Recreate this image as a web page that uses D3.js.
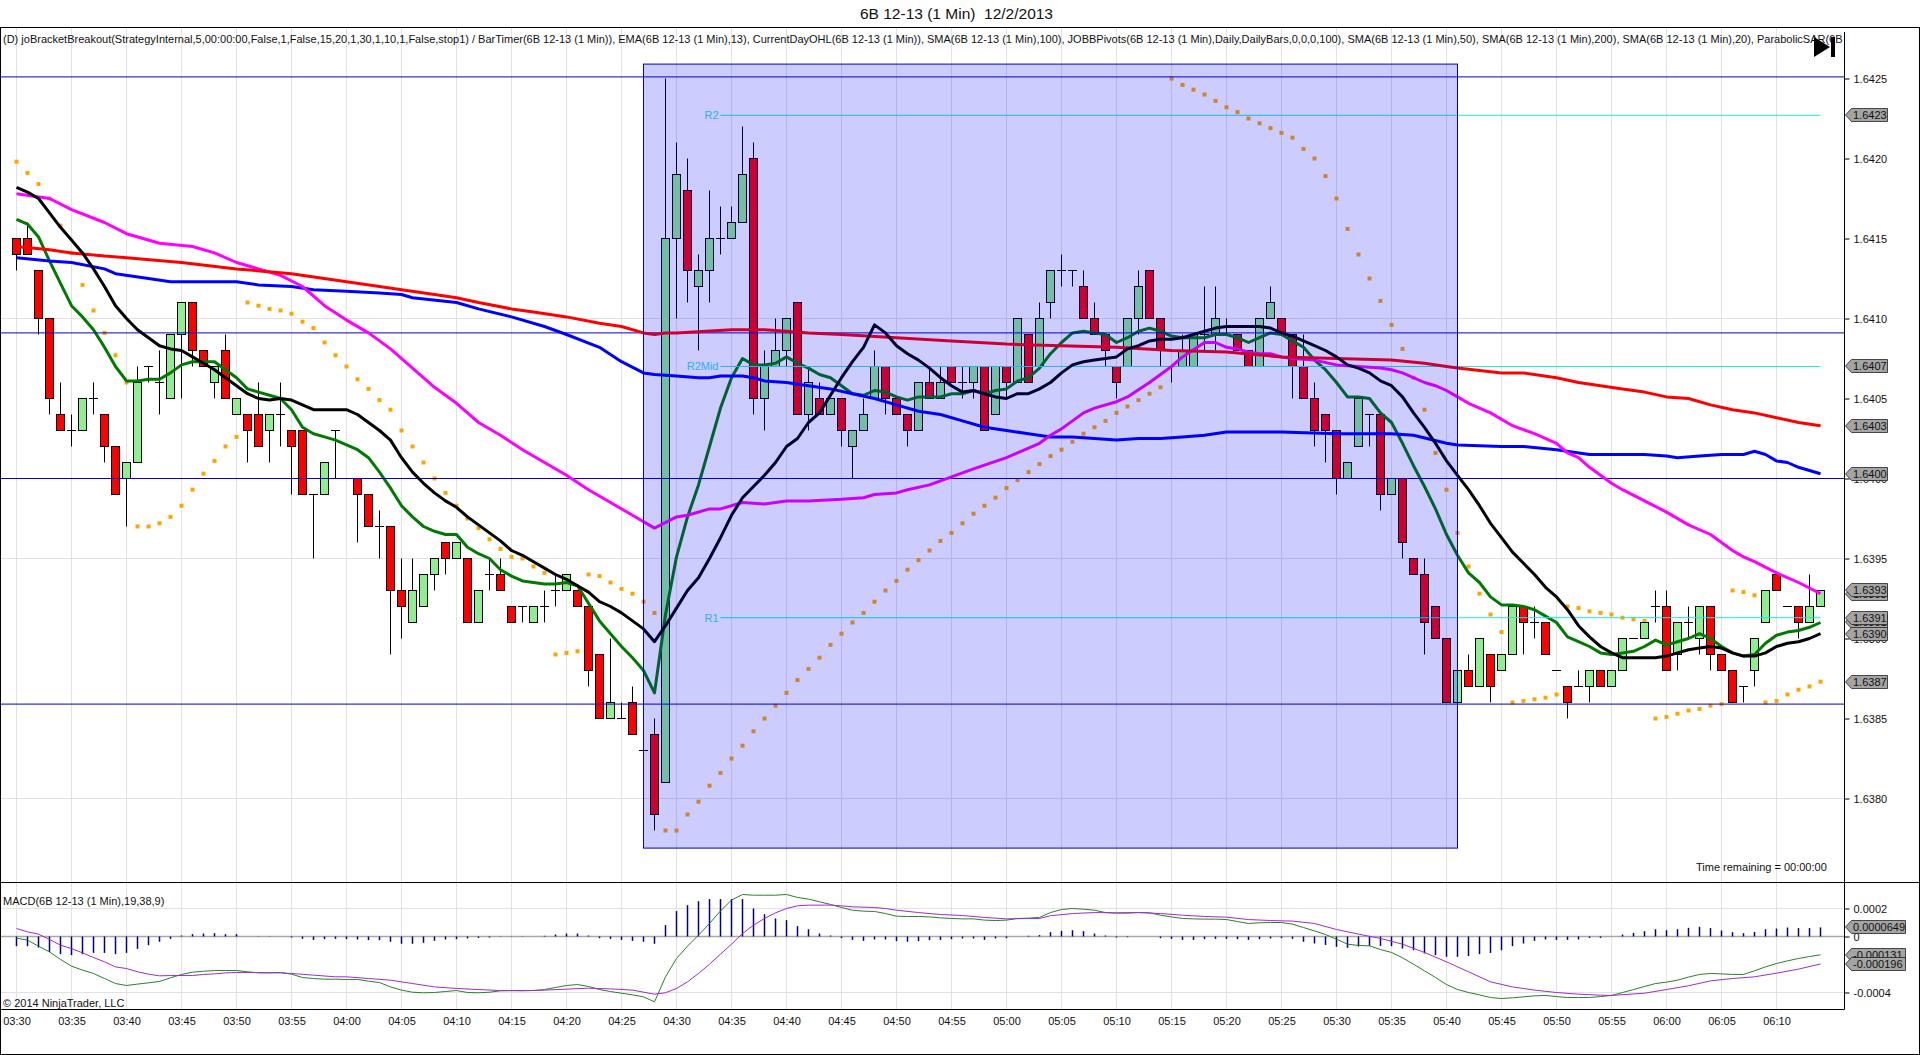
<!DOCTYPE html>
<html>
<head>
<meta charset="utf-8">
<title>6B 12-13 (1 Min) 12/2/2013</title>
<script src="https://cdn.jsdelivr.net/npm/d3@7"></script>
<style>
html, body { margin: 0; padding: 0; background: #fff; overflow: hidden; }
text { font-family: "Liberation Sans", Arial, sans-serif; font-size: 11px; fill: #111; white-space: pre; }
</style>
</head>
<body>
<div id="chart"></div>
<script>
// Time labels, one every 5 minutes from 03:30
const timeLabels = ["03:30","03:35","03:40","03:45","03:50","03:55","04:00","04:05","04:10","04:15","04:20","04:25","04:30","04:35","04:40","04:45","04:50","04:55","05:00","05:05","05:10","05:15","05:20","05:25","05:30","05:35","05:40","05:45","05:50","05:55","06:00","06:05","06:10"]
const priceTicks = [1.6380,1.6385,1.6390,1.6395,1.6400,1.6405,1.6410,1.6415,1.6420,1.6425]
const priceGrid = [1.6380,1.6395,1.6410]

// Candles, one per minute
const opens = [
1.6415,1.6415,1.6413,1.6410,1.6404,1.6403,1.6403,1.6405,1.6404,1.6402,
1.6400,1.6401,1.6407,1.6406,1.6405,1.6409,1.6411,1.6408,1.6406,1.6408,
1.6404,1.6404,1.6404,1.6403,1.6404,1.6403,1.6403,1.6399,1.6399,1.6403,
1.6400,1.6400,1.6399,1.6397,1.6397,1.6393,1.6391,1.6392,1.6394,1.6396,
1.6395,1.6395,1.6391,1.6394,1.6394,1.6392,1.6392,1.6391,1.6392,1.6393,
1.6393,1.6393,1.6392,1.6389,1.6385,1.6385,1.6386,1.6383,1.6384,1.6381,
1.6415,1.6418,1.6412,1.6413,1.6415,1.6415,1.6416,1.6420,1.6405,1.6407,
1.6408,1.6411,1.6404,1.6405,1.6404,1.6405,1.6402,1.6403,1.6405,1.6407,
1.6405,1.6404,1.6403,1.6406,1.6405,1.6407,1.6406,1.6406,1.6407,1.6404,
1.6407,1.6406,1.6409,1.6407,1.6411,1.6413,1.6413,1.6412,1.6410,1.6409,
1.6407,1.6407,1.6410,1.6413,1.6410,1.6407,1.6407,1.6407,1.6409,1.6409,
1.6409,1.6409,1.6408,1.6407,1.6410,1.6410,1.6409,1.6407,1.6405,1.6404,
1.6403,1.6400,1.6402,1.6404,1.6404,1.6399,1.6400,1.6395,1.6394,1.6392,
1.6390,1.6386,1.6388,1.6387,1.6389,1.6388,1.6389,1.6392,1.6391,1.6391,
1.6388,1.6387,1.6387,1.6387,1.6388,1.6387,1.6388,1.6390,1.6390,1.6392,
1.6392,1.6389,1.6391,1.6390,1.6392,1.6389,1.6388,1.6387,1.6388,1.6391,
1.6394,1.6392,1.6392,1.6391,1.6392]
const highs = [
1.6415,1.6416,1.6413,1.6410,1.6406,1.6404,1.6405,1.6406,1.6404,1.6402,
1.6401,1.6407,1.6407,1.6408,1.6409,1.6411,1.6411,1.6408,1.6407,1.6409,
1.6405,1.6404,1.6406,1.6404,1.6406,1.6403,1.6403,1.6399,1.6401,1.6403,
1.6400,1.6400,1.6399,1.6398,1.6397,1.6395,1.6395,1.6394,1.6395,1.6396,
1.6396,1.6395,1.6393,1.6395,1.6395,1.6392,1.6392,1.6392,1.6393,1.6394,
1.6394,1.6393,1.6392,1.6389,1.6390,1.6386,1.6387,1.6383,1.6385,1.6425,
1.6421,1.6420,1.6414,1.6418,1.6417,1.6417,1.6422,1.6421,1.6408,1.6410,
1.6410,1.6411,1.6407,1.6406,1.6405,1.6405,1.6403,1.6405,1.6408,1.6407,
1.6405,1.6404,1.6406,1.6407,1.6407,1.6407,1.6407,1.6407,1.6407,1.6407,
1.6407,1.6410,1.6409,1.6411,1.6413,1.6414,1.6413,1.6413,1.6411,1.6409,
1.6407,1.6410,1.6413,1.6413,1.6410,1.6407,1.6409,1.6409,1.6412,1.6412,
1.6410,1.6409,1.6408,1.6410,1.6412,1.6410,1.6409,1.6409,1.6406,1.6404,
1.6403,1.6401,1.6405,1.6404,1.6404,1.6400,1.6400,1.6395,1.6395,1.6392,
1.6390,1.6388,1.6389,1.6390,1.6389,1.6389,1.6392,1.6392,1.6392,1.6391,
1.6388,1.6387,1.6388,1.6388,1.6388,1.6388,1.6390,1.6390,1.6391,1.6393,
1.6393,1.6391,1.6392,1.6392,1.6392,1.6389,1.6388,1.6387,1.6390,1.6393,
1.6394,1.6392,1.6392,1.6394,1.6393]
const lows = [
1.6413,1.6414,1.6409,1.6404,1.6403,1.6402,1.6403,1.6404,1.6401,1.6399,
1.6397,1.6401,1.6406,1.6404,1.6405,1.6405,1.6407,1.6407,1.6405,1.6405,
1.6404,1.6401,1.6402,1.6401,1.6402,1.6399,1.6399,1.6395,1.6399,1.6400,
1.6400,1.6396,1.6397,1.6395,1.6389,1.6390,1.6391,1.6392,1.6393,1.6394,
1.6395,1.6391,1.6391,1.6393,1.6393,1.6391,1.6391,1.6391,1.6391,1.6392,
1.6393,1.6392,1.6387,1.6385,1.6385,1.6385,1.6384,1.6383,1.6378,1.6381,
1.6410,1.6411,1.6408,1.6411,1.6414,1.6415,1.6416,1.6404,1.6403,1.6407,
1.6407,1.6404,1.6403,1.6404,1.6404,1.6402,1.6400,1.6403,1.6405,1.6404,
1.6404,1.6402,1.6403,1.6405,1.6405,1.6406,1.6405,1.6405,1.6403,1.6404,
1.6405,1.6406,1.6406,1.6407,1.6410,1.6412,1.6412,1.6410,1.6409,1.6407,
1.6405,1.6407,1.6409,1.6410,1.6407,1.6406,1.6407,1.6407,1.6408,1.6408,
1.6409,1.6408,1.6407,1.6407,1.6410,1.6409,1.6405,1.6405,1.6402,1.6401,
1.6399,1.6400,1.6402,1.6402,1.6398,1.6399,1.6395,1.6394,1.6389,1.6390,
1.6386,1.6386,1.6387,1.6387,1.6386,1.6388,1.6389,1.6389,1.6390,1.6389,
1.6388,1.6385,1.6387,1.6386,1.6387,1.6387,1.6388,1.6390,1.6390,1.6391,
1.6388,1.6388,1.6390,1.6389,1.6388,1.6388,1.6386,1.6386,1.6387,1.6391,
1.6393,1.6392,1.6390,1.6391,1.6392]
const closes = [
1.6414,1.6414,1.6410,1.6405,1.6403,1.6403,1.6405,1.6405,1.6402,1.6399,
1.6401,1.6406,1.6407,1.6406,1.6409,1.6411,1.6408,1.6407,1.6407,1.6405,
1.6405,1.6403,1.6402,1.6404,1.6404,1.6402,1.6399,1.6399,1.6401,1.6403,
1.6400,1.6399,1.6397,1.6397,1.6393,1.6392,1.6393,1.6394,1.6395,1.6395,
1.6396,1.6391,1.6393,1.6394,1.6393,1.6391,1.6392,1.6392,1.6392,1.6393,
1.6394,1.6392,1.6388,1.6385,1.6386,1.6385,1.6384,1.6383,1.6379,1.6415,
1.6419,1.6413,1.6413,1.6415,1.6415,1.6416,1.6419,1.6405,1.6407,1.6408,
1.6410,1.6404,1.6406,1.6404,1.6405,1.6403,1.6403,1.6404,1.6407,1.6405,
1.6404,1.6403,1.6406,1.6405,1.6406,1.6406,1.6406,1.6407,1.6403,1.6407,
1.6406,1.6410,1.6406,1.6410,1.6413,1.6413,1.6413,1.6410,1.6409,1.6408,
1.6406,1.6410,1.6412,1.6410,1.6408,1.6407,1.6408,1.6409,1.6409,1.6410,
1.6409,1.6408,1.6407,1.6410,1.6411,1.6409,1.6407,1.6405,1.6403,1.6403,
1.6400,1.6401,1.6405,1.6404,1.6399,1.6400,1.6396,1.6394,1.6391,1.6390,
1.6386,1.6388,1.6387,1.6390,1.6387,1.6389,1.6392,1.6391,1.6391,1.6389,
1.6388,1.6386,1.6387,1.6388,1.6387,1.6388,1.6390,1.6390,1.6391,1.6392,
1.6388,1.6391,1.6391,1.6392,1.6389,1.6388,1.6386,1.6387,1.6390,1.6393,
1.6393,1.6392,1.6391,1.6392,1.6393]

// EMA(13) and SMA(20), one value per minute
const ema13 = [
1.64162,1.64159,1.64151,1.64136,1.64122,1.64108,1.64101,1.64093,1.64082,1.64070,
1.64061,1.64061,1.64062,1.64062,1.64066,1.64071,1.64073,1.64073,1.64073,1.64068,
1.64063,1.64056,1.64054,1.64052,1.64050,1.64043,1.64032,1.64028,1.64026,1.64024,
1.64021,1.64018,1.64013,1.64004,1.63994,1.63983,1.63976,1.63970,1.63967,1.63965,
1.63965,1.63957,1.63953,1.63950,1.63943,1.63939,1.63936,1.63935,1.63934,1.63934,
1.63935,1.63933,1.63922,1.63911,1.63903,1.63895,1.63888,1.63880,1.63866,1.63915,
1.63951,1.63976,1.63996,1.64020,1.64044,1.64063,1.64075,1.64071,1.64071,1.64072,
1.64076,1.64072,1.64069,1.64065,1.64063,1.64058,1.64053,1.64052,1.64055,1.64054,
1.64051,1.64049,1.64051,1.64051,1.64051,1.64053,1.64053,1.64055,1.64053,1.64055,
1.64056,1.64061,1.64063,1.64069,1.64078,1.64085,1.64091,1.64092,1.64091,1.64090,
1.64085,1.64088,1.64092,1.64094,1.64092,1.64089,1.64088,1.64088,1.64088,1.64090,
1.64090,1.64088,1.64085,1.64088,1.64091,1.64090,1.64086,1.64082,1.64074,1.64068,
1.64060,1.64051,1.64051,1.64050,1.64041,1.64035,1.64022,1.64008,1.63995,1.63981,
1.63965,1.63952,1.63941,1.63935,1.63926,1.63921,1.63921,1.63920,1.63918,1.63914,
1.63910,1.63901,1.63898,1.63895,1.63891,1.63890,1.63891,1.63892,1.63895,1.63899,
1.63896,1.63898,1.63900,1.63903,1.63900,1.63895,1.63891,1.63889,1.63890,1.63897,
1.63902,1.63904,1.63905,1.63907,1.63910]
const sma20 = [
1.64182,1.64179,1.64175,1.64166,1.64157,1.64149,1.64141,1.64131,1.64120,1.64108,
1.64100,1.64093,1.64088,1.64083,1.64081,1.64080,1.64076,1.64072,1.64068,1.64063,
1.64058,1.64053,1.64050,1.64049,1.64050,1.64049,1.64046,1.64043,1.64043,1.64043,
1.64043,1.64040,1.64035,1.64030,1.64024,1.64013,1.64004,1.63997,1.63991,1.63986,
1.63982,1.63976,1.63971,1.63966,1.63961,1.63955,1.63952,1.63948,1.63944,1.63940,
1.63937,1.63933,1.63929,1.63923,1.63920,1.63916,1.63911,1.63906,1.63898,1.63908,
1.63919,1.63930,1.63938,1.63950,1.63963,1.63977,1.63988,1.63995,1.64002,1.64010,
1.64020,1.64025,1.64035,1.64041,1.64052,1.64063,1.64073,1.64082,1.64096,1.64091,
1.64083,1.64078,1.64074,1.64069,1.64063,1.64058,1.64054,1.64055,1.64053,1.64051,
1.64050,1.64053,1.64053,1.64056,1.64060,1.64066,1.64071,1.64073,1.64074,1.64075,
1.64076,1.64081,1.64083,1.64086,1.64087,1.64087,1.64088,1.64090,1.64092,1.64094,
1.64095,1.64095,1.64095,1.64095,1.64094,1.64091,1.64089,1.64086,1.64083,1.64080,
1.64076,1.64071,1.64069,1.64066,1.64061,1.64058,1.64051,1.64041,1.64032,1.64022,
1.64011,1.64002,1.63993,1.63983,1.63972,1.63963,1.63954,1.63947,1.63940,1.63932,
1.63926,1.63918,1.63908,1.63901,1.63895,1.63891,1.63888,1.63888,1.63888,1.63888,
1.63889,1.63891,1.63893,1.63894,1.63895,1.63894,1.63891,1.63889,1.63889,1.63891,
1.63895,1.63897,1.63898,1.63900,1.63903]

// Slower averages, [minute, price] at readable points
const sma50 = [[0,1.64178],[3,1.64175],[5,1.64168],[8,1.64160],[10,1.64153],[13,1.64147],[16,1.64145],[18,1.64141],[20,1.64135],[22,1.64131],[24,1.64127],[26,1.64120],[28,1.64108],[30,1.64099],[32,1.64091],[34,1.64081],[36,1.64069],[38,1.64057],[40,1.64047],[41,1.64041],[42,1.64035],[44,1.64027],[46,1.64018],[48,1.64010],[50,1.64002],[52,1.63993],[54,1.63985],[56,1.63977],[58,1.63969],[60,1.63976],[61,1.63977],[63,1.63981],[64,1.63981],[66,1.63985],[68,1.63984],[70,1.63986],[72,1.63986],[75,1.63987],[77,1.63988],[78,1.63990],[80,1.63991],[81,1.63993],[83,1.63996],[85,1.64001],[87,1.64006],[90,1.64013],[91,1.64016],[93,1.64022],[94,1.64027],[95,1.64031],[97,1.64041],[98,1.64044],[100,1.64048],[101,1.64051],[103,1.64060],[105,1.64070],[106,1.64076],[108,1.64085],[109,1.64085],[110,1.64082],[111,1.64081],[112,1.64079],[113,1.64078],[114,1.64078],[115,1.64076],[116,1.64075],[118,1.64074],[120,1.64071],[122,1.64070],[124,1.64069],[125,1.64068],[126,1.64066],[128,1.64060],[129,1.64058],[130,1.64055],[131,1.64051],[132,1.64047],[134,1.64041],[136,1.64033],[138,1.64028],[140,1.64022],[141,1.64016],[142,1.64013],[143,1.64007],[144,1.64002],[145,1.63997],[146,1.63993],[148,1.63986],[150,1.63979],[152,1.63971],[154,1.63965],[155,1.63960],[156,1.63955],[157,1.63951],[158,1.63948],[160,1.63941],[162,1.63935],[164,1.63928]]
const sma100 = [[0,1.64138],[3,1.64136],[5,1.64135],[8,1.64131],[9,1.64128],[12,1.64125],[14,1.64123],[20,1.64123],[22,1.64121],[25,1.64120],[27,1.64118],[30,1.64117],[33,1.64116],[35,1.64115],[36,1.64113],[40,1.64110],[42,1.64106],[45,1.64101],[48,1.64095],[50,1.64090],[53,1.64082],[55,1.64073],[57,1.64066],[58,1.64065],[60,1.64064],[62,1.64063],[63,1.64063],[64,1.64064],[66,1.64064],[67,1.64063],[68,1.64061],[70,1.64060],[72,1.64058],[74,1.64056],[76,1.64053],[78,1.64050],[80,1.64046],[82,1.64042],[84,1.64040],[86,1.64036],[88,1.64032],[90,1.64030],[92,1.64028],[94,1.64026],[96,1.64026],[98,1.64025],[100,1.64024],[102,1.64025],[104,1.64025],[106,1.64026],[108,1.64027],[110,1.64029],[112,1.64029],[115,1.64029],[120,1.64028],[125,1.64028],[127,1.64027],[130,1.64022],[131,1.64021],[135,1.64020],[137,1.64020],[140,1.64018],[143,1.64015],[145,1.64015],[148,1.64015],[150,1.64014],[151,1.64013],[153,1.64014],[155,1.64015],[157,1.64015],[158,1.64017],[159,1.64015],[160,1.64011],[161,1.64010],[162,1.64007],[163,1.64005],[164,1.64003]]
const sma200 = [[0,1.64145],[3,1.64143],[5,1.64141],[8,1.64139],[10,1.64138],[15,1.64135],[20,1.64131],[25,1.64128],[30,1.64123],[33,1.64120],[35,1.64118],[38,1.64115],[40,1.64113],[42,1.64110],[45,1.64106],[47,1.64104],[50,1.64101],[53,1.64097],[55,1.64095],[57,1.64091],[58,1.64090],[59,1.64091],[60,1.64091],[65,1.64093],[66,1.64093],[68,1.64093],[70,1.64092],[72,1.64091],[75,1.64090],[80,1.64088],[85,1.64086],[90,1.64084],[95,1.64083],[100,1.64082],[105,1.64080],[110,1.64079],[115,1.64076],[120,1.64075],[125,1.64074],[128,1.64072],[130,1.64070],[131,1.64069],[135,1.64066],[137,1.64066],[140,1.64063],[142,1.64060],[144,1.64058],[146,1.64056],[148,1.64054],[150,1.64051],[152,1.64050],[154,1.64046],[156,1.64043],[158,1.64041],[160,1.64038],[162,1.64035],[164,1.64033]]

// Parabolic SAR, one value per minute
const sar = [
1.64198,1.64191,1.64184,1.64175,1.64158,1.64141,1.64121,1.64105,1.64091,1.64077,
1.64060,1.63970,1.63970,1.63972,1.63976,1.63983,1.63993,1.64003,1.64011,1.64020,
1.64026,1.64110,1.64108,1.64106,1.64105,1.64103,1.64098,1.64094,1.64085,1.64077,
1.64070,1.64062,1.64056,1.64049,1.64043,1.64030,1.64020,1.64010,1.64000,1.63991,
1.63983,1.63975,1.63969,1.63962,1.63956,1.63951,1.63950,1.63945,1.63941,1.63890,
1.63891,1.63892,1.63940,1.63939,1.63935,1.63931,1.63928,1.63923,1.63916,1.63780,
1.63780,1.63790,1.63798,1.63808,1.63816,1.63825,1.63833,1.63842,1.63850,1.63858,
1.63866,1.63874,1.63881,1.63888,1.63896,1.63903,1.63910,1.63916,1.63923,1.63930,
1.63936,1.63943,1.63949,1.63955,1.63961,1.63966,1.63972,1.63978,1.63983,1.63988,
1.63994,1.63999,1.64004,1.64009,1.64014,1.64018,1.64023,1.64028,1.64032,1.64036,
1.64041,1.64045,1.64049,1.64053,1.64057,1.64250,1.64246,1.64243,1.64240,1.64236,
1.64232,1.64229,1.64225,1.64222,1.64219,1.64216,1.64213,1.64206,1.64200,1.64189,
1.64175,1.64156,1.64140,1.64125,1.64111,1.64096,1.64081,1.64063,1.64043,1.64016,
1.63993,1.63966,1.63945,1.63928,1.63915,1.63904,1.63860,1.63861,1.63862,1.63863,
1.63865,1.63920,1.63919,1.63917,1.63916,1.63915,1.63913,1.63912,1.63911,1.63850,
1.63851,1.63853,1.63855,1.63856,1.63858,1.63859,1.63930,1.63929,1.63927,1.63860,
1.63861,1.63865,1.63868,1.63870,1.63873]

// Day open/high/low lines and pivots
const dayLines = [1.64251,1.64091,1.64000,1.63859]
const pivotNames = ["R2","R2Mid","R1"]
const pivotValues = [1.64227,1.64070,1.63913]
const pivotStartMinute = 64

// Bracket box: time range in minutes and price range
const boxMinutes = [57,131]
const boxPrices = [1.63769,1.64259]

// Price flags on the axis
const flagValues = [1.64227,1.64070,1.64033,1.64003,1.63928,1.63930,1.63910,1.63913,1.63903,1.63873]
const flagLabels = ["1.6423","1.6407","1.6403","1.6400","1.6393","1.6393","1.6391","1.6391","1.6390","1.6387"]

// MACD panel, values in millionths
const macdTicks = [0.0002,0,-0.0004]
const macdGrid = [-400,200]
const macdHist = [
-69,-69,-79,-110,-126,-133,-126,-117,-117,-126,
-117,-88,-62,-38,-17,7,17,21,24,17,
17,0,2,2,0,-7,-17,-24,-19,-17,
-19,-21,-26,-26,-38,-52,-52,-45,-31,-21,
-19,-14,-10,-7,-2,-2,-2,0,5,14,
21,21,7,-12,-17,-24,-31,-38,-52,81,
181,224,252,267,267,267,267,200,159,129,
117,74,52,21,7,-12,-24,-31,-21,-21,
-33,-38,-33,-26,-24,-19,-14,-14,-24,-14,
-12,0,5,10,31,40,45,38,21,7,
-7,-5,0,0,-12,-17,-24,-24,-19,-17,
-17,-19,-24,-19,-14,-12,-17,-38,-50,-60,
-74,-81,-71,-67,-67,-69,-86,-98,-121,-133,
-145,-145,-140,-126,-117,-98,-69,-50,-31,-21,
-24,-24,-21,-10,-10,0,14,26,38,52,
45,52,62,69,60,43,31,24,33,52,
57,64,60,60,65]
const macdLine = [
-12,-26,-69,-110,-164,-212,-240,-264,-300,-336,
-350,-340,-331,-321,-295,-271,-255,-248,-243,-243,
-243,-252,-260,-260,-257,-269,-293,-300,-305,-305,
-307,-307,-319,-329,-360,-383,-398,-402,-400,-393,
-386,-400,-402,-398,-388,-386,-386,-386,-379,-364,
-350,-343,-357,-379,-393,-405,-417,-431,-467,-288,
-157,-69,10,93,183,260,300,295,295,295,
300,279,267,248,229,207,188,181,179,164,
145,143,143,140,133,129,126,126,117,114,
117,129,131,136,171,193,200,195,188,171,
167,167,171,169,152,140,129,126,124,124,
121,107,93,98,100,100,88,64,40,14,
-19,-55,-64,-67,-93,-114,-152,-198,-245,-293,
-343,-379,-400,-417,-436,-443,-438,-431,-424,-421,
-429,-436,-436,-436,-429,-421,-400,-379,-357,-336,
-326,-312,-290,-271,-264,-267,-271,-271,-245,-217,
-193,-174,-157,-143,-131]
const macdSignal = [[0,57],[1,33],[2,17],[3,-21],[4,-62],[5,-86],[6,-117],[7,-150],[8,-181],[9,-217],[10,-229],[11,-252],[12,-269],[13,-281],[14,-279],[16,-279],[17,-271],[18,-267],[19,-260],[20,-257],[22,-257],[24,-260],[25,-264],[27,-276],[29,-288],[30,-288],[32,-300],[34,-312],[36,-336],[38,-360],[40,-371],[42,-379],[44,-386],[46,-388],[48,-383],[50,-376],[52,-369],[54,-374],[56,-383],[58,-412],[59,-402],[60,-371],[61,-324],[62,-264],[63,-198],[64,-126],[65,-55],[66,21],[67,81],[68,129],[69,169],[70,200],[71,219],[72,224],[74,224],[75,219],[76,212],[78,207],[79,200],[80,188],[82,171],[84,157],[86,150],[88,136],[90,126],[92,129],[93,129],[94,148],[96,164],[98,171],[100,169],[102,171],[104,164],[106,152],[108,143],[110,138],[112,121],[114,114],[116,110],[118,93],[120,50],[122,17],[124,-14],[126,-55],[128,-114],[130,-181],[132,-252],[134,-324],[136,-360],[138,-383],[140,-400],[142,-412],[144,-419],[145,-421],[148,-405],[150,-379],[152,-352],[154,-317],[156,-300],[158,-288],[160,-262],[162,-233],[164,-196]]
const macdFlagValues = [65,-131,-196]
const macdFlagLabels = ["0.0000649","-0.000131","-0.000196"]

const legendText = "(D) joBracketBreakout(StrategyInternal,5,00:00:00,False,1,False,15,20,1,30,1,10,1,False,stop1) / BarTimer(6B 12-13 (1 Min)), EMA(6B 12-13 (1 Min),13), CurrentDayOHL(6B 12-13 (1 Min)), SMA(6B 12-13 (1 Min),100), JOBBPivots(6B 12-13 (1 Min),Daily,DailyBars,0,0,0,100), SMA(6B 12-13 (1 Min),50), SMA(6B 12-13 (1 Min),200), SMA(6B 12-13 (1 Min),20), ParabolicSAR(6B"

function drawChart(container) {
    // Chart parameters
    const WIDTH = 1920
    const HEIGHT = 1055
    const AXIS_X = 1844.5
    const PANEL = {TOP:27.5, SPLIT:882.5, BOTTOM:1009.5, END:1054.5}
    const GRID = "#e2e2e2"
    const LINE_BLUE = "#0000c8"

    let xScale = d3.scaleLinear().domain([0,164]).range([16.5,1820.5])
    let yScale = d3.scaleLinear().domain([1.6380,1.6425]).range([798.5,78.5])
    let macdScale = d3.scaleLinear().domain([-400,200]).range([992.5,908.5])

    let svg = d3.select(container).append("svg")
        .attr("width", WIDTH)
        .attr("height", HEIGHT)
        .style("display", "block")

    svg.append("defs").append("clipPath").attr("id", "legendClip")
        .append("rect").attr("x", 0).attr("y", 28).attr("width", AXIS_X).attr("height", 30)

    // Vertical and horizontal grid
    let gridMinutes = timeLabels.map((d,i)=>i*5)
    let grid = svg.append("g").attr("stroke", GRID).attr("stroke-width", 1)
    grid.selectAll(".vTop").data(gridMinutes).join("line").attr("class", "vTop")
        .attr("x1", d=>xScale(d)).attr("x2", d=>xScale(d))
        .attr("y1", PANEL.TOP).attr("y2", PANEL.BOTTOM)
    grid.selectAll(".hTop").data(priceGrid).join("line").attr("class", "hTop")
        .attr("x1", 0).attr("x2", AXIS_X)
        .attr("y1", d=>yScale(d)).attr("y2", d=>yScale(d))
    grid.selectAll(".hBottom").data(macdGrid).join("line").attr("class", "hBottom")
        .attr("x1", 0).attr("x2", AXIS_X)
        .attr("y1", d=>macdScale(d)).attr("y2", d=>macdScale(d))

    // Parabolic SAR dots go under everything else
    svg.append("g").selectAll("rect").data(sar).join("rect")
        .attr("x", (d,i)=>xScale(i)-2)
        .attr("y", d=>yScale(d)-2)
        .attr("width", 4).attr("height", 4)
        .attr("fill", "#ffa500")

    // Candles: wick, then a body or a dash when open equals close
    let candles = svg.append("g").selectAll("g").data(opens).join("g")
    candles.each(function(d,i) {
        let g = d3.select(this)
        g.append("line")
            .attr("x1", xScale(i)).attr("x2", xScale(i))
            .attr("y1", yScale(highs[i])).attr("y2", yScale(lows[i]))
            .attr("stroke", "#000")
        if (opens[i]==closes[i]) {
            g.append("line")
                .attr("x1", xScale(i)-4.5).attr("x2", xScale(i)+4.5)
                .attr("y1", yScale(opens[i])).attr("y2", yScale(opens[i]))
                .attr("stroke", "#000")
        } else {
            g.append("rect")
                .attr("x", xScale(i)-4)
                .attr("y", yScale(Math.max(opens[i],closes[i])))
                .attr("width", 8)
                .attr("height", Math.abs(yScale(opens[i])-yScale(closes[i])))
                .attr("fill", closes[i]>opens[i] ? "#90ee90" : "#ff0000")
                .attr("stroke", "#000")
        }
    })

    // Moving averages
    let perMinute = d3.line().x((d,i)=>xScale(i)).y(d=>yScale(d))
    let byPoint = d3.line().x(d=>xScale(d[0])).y(d=>yScale(d[1]))
    function drawLine(path, colour, width) {
        svg.append("path").attr("d", path).attr("fill", "none")
            .attr("stroke", colour).attr("stroke-width", width)
            .attr("stroke-linejoin", "round")
    }
    drawLine(perMinute(ema13), "#007a00", 3)
    drawLine(byPoint(sma100), "#0000ff", 3)

    // Day lines
    svg.append("g").selectAll("line").data(dayLines).join("line")
        .attr("x1", 0).attr("x2", AXIS_X)
        .attr("y1", d=>yScale(d)).attr("y2", d=>yScale(d))
        .attr("stroke", LINE_BLUE)

    // Pivots
    svg.append("g").selectAll("line").data(pivotValues).join("line")
        .attr("x1", xScale(pivotStartMinute)).attr("x2", xScale(164))
        .attr("y1", d=>yScale(d)).attr("y2", d=>yScale(d))
        .attr("stroke", "#22e6e6")
    svg.append("g").selectAll("text").data(pivotNames).join("text")
        .attr("x", xScale(pivotStartMinute)-2)
        .attr("y", (d,i)=>yScale(pivotValues[i]))
        .attr("dy", "0.35em")
        .attr("text-anchor", "end")
        .style("fill", "#33ddff")
        .text(d=>d)

    drawLine(byPoint(sma50), "#ff00ff", 3)
    drawLine(byPoint(sma200), "#ff0000", 3)
    drawLine(perMinute(sma20), "#000000", 3)

    // Bracket box, translucent over the marks
    svg.append("rect")
        .attr("x", xScale(boxMinutes[0]))
        .attr("y", yScale(boxPrices[1]))
        .attr("width", xScale(boxMinutes[1])-xScale(boxMinutes[0]))
        .attr("height", yScale(boxPrices[0])-yScale(boxPrices[1]))
        .attr("fill", "rgba(0,0,255,0.2)")
        .attr("stroke", LINE_BLUE)

    // MACD panel
    svg.append("line")
        .attr("x1", 0).attr("x2", AXIS_X)
        .attr("y1", macdScale(0)).attr("y2", macdScale(0))
        .attr("stroke", "#a8a8a8").attr("stroke-width", 1.5)
    svg.append("g").selectAll("line").data(macdHist).join("line")
        .attr("x1", (d,i)=>xScale(i)).attr("x2", (d,i)=>xScale(i))
        .attr("y1", macdScale(0)).attr("y2", d=>macdScale(d))
        .attr("stroke", "#000080").attr("stroke-width", 1.5)
    let macdPerMinute = d3.line().x((d,i)=>xScale(i)).y(d=>macdScale(d))
    let macdByPoint = d3.line().x(d=>xScale(d[0])).y(d=>macdScale(d[1]))
    drawLine(macdPerMinute(macdLine), "#2a7f2a", 1)
    drawLine(macdByPoint(macdSignal), "#a02ccc", 1)

    // Panel frame
    let frame = svg.append("g").attr("stroke", "#000").attr("stroke-width", 1)
    frame.append("line").attr("x1", 0).attr("x2", WIDTH).attr("y1", PANEL.TOP).attr("y2", PANEL.TOP)
    frame.append("line").attr("x1", 0).attr("x2", WIDTH).attr("y1", PANEL.SPLIT).attr("y2", PANEL.SPLIT)
    frame.append("line").attr("x1", 0).attr("x2", AXIS_X).attr("y1", PANEL.BOTTOM).attr("y2", PANEL.BOTTOM)
    frame.append("line").attr("x1", 0).attr("x2", WIDTH).attr("y1", PANEL.END).attr("y2", PANEL.END)
    frame.append("line").attr("x1", 0.5).attr("x2", 0.5).attr("y1", PANEL.TOP).attr("y2", PANEL.END)
    frame.append("line").attr("x1", 1919.5).attr("x2", 1919.5).attr("y1", PANEL.TOP).attr("y2", PANEL.END)
    frame.append("line").attr("x1", AXIS_X).attr("x2", AXIS_X).attr("y1", 32).attr("y2", PANEL.BOTTOM)

    // Axes
    let priceAxis = d3.axisRight(yScale).tickValues(priceTicks).tickFormat(d3.format(".4f")).tickSize(5).tickPadding(4)
    svg.append("g").attr("transform", "translate(" + AXIS_X + ",0)").call(priceAxis)
        .call(g=>g.select(".domain").remove())
    let macdAxis = d3.axisRight(macdScale).tickValues(macdTicks.map(d=>d*1e6))
        .tickFormat((d,i)=>String(macdTicks[i])).tickSize(5).tickPadding(4)
    svg.append("g").attr("transform", "translate(" + AXIS_X + ",0)").call(macdAxis)
        .call(g=>g.select(".domain").remove())
    let timeAxis = d3.axisBottom(xScale).tickValues(gridMinutes)
        .tickFormat((d,i)=>timeLabels[i]).tickSize(0).tickPadding(8)
    svg.append("g").attr("transform", "translate(0," + PANEL.BOTTOM + ")").call(timeAxis)
        .call(g=>g.select(".domain").remove())

    // Flags on the axis
    function drawFlags(values, labels, scale, right) {
        let flags = svg.append("g").selectAll("g").data(values).join("g")
            .attr("transform", d=>"translate(" + AXIS_X + "," + Math.round(scale(d)) + ")")
        flags.append("polygon")
            .attr("points", "1,0 7,-6.5 " + right + ",-6.5 " + right + ",6.5 7,6.5")
            .attr("fill", "#a4a4a4").attr("stroke", "#222").attr("stroke-width", 0.8)
        flags.append("text").attr("x", 8.5).attr("dy", "0.35em")
            .text((d,i)=>labels[i])
    }
    drawFlags(flagValues, flagLabels, yScale, 43)
    drawFlags(macdFlagValues, macdFlagLabels, macdScale, 61)

    // Titles and notes
    svg.append("text").attr("x", 956.5).attr("y", 18.5).attr("text-anchor", "middle")
        .style("font-size", "15.5px").text("6B 12-13 (1 Min)  12/2/2013")
    svg.append("text").attr("x", 3).attr("y", 43).attr("clip-path", "url(#legendClip)")
        .text(legendText)
    svg.append("text").attr("x", 1696).attr("y", 871).text("Time remaining = 00:00:00")
    svg.append("text").attr("x", 3).attr("y", 904.5).text("MACD(6B 12-13 (1 Min),19,38,9)")
    svg.append("text").attr("x", 3).attr("y", 1007).text("\u00a9 2014 NinjaTrader, LLC")

    // Skip-to-end button
    svg.append("polygon").attr("points", "1814,37 1830,47 1814,57").attr("fill", "#000")
    svg.append("rect").attr("x", 1831).attr("y", 37).attr("width", 4).attr("height", 20).attr("fill", "#000")
}

drawChart("#chart")
</script>
</body>
</html>
